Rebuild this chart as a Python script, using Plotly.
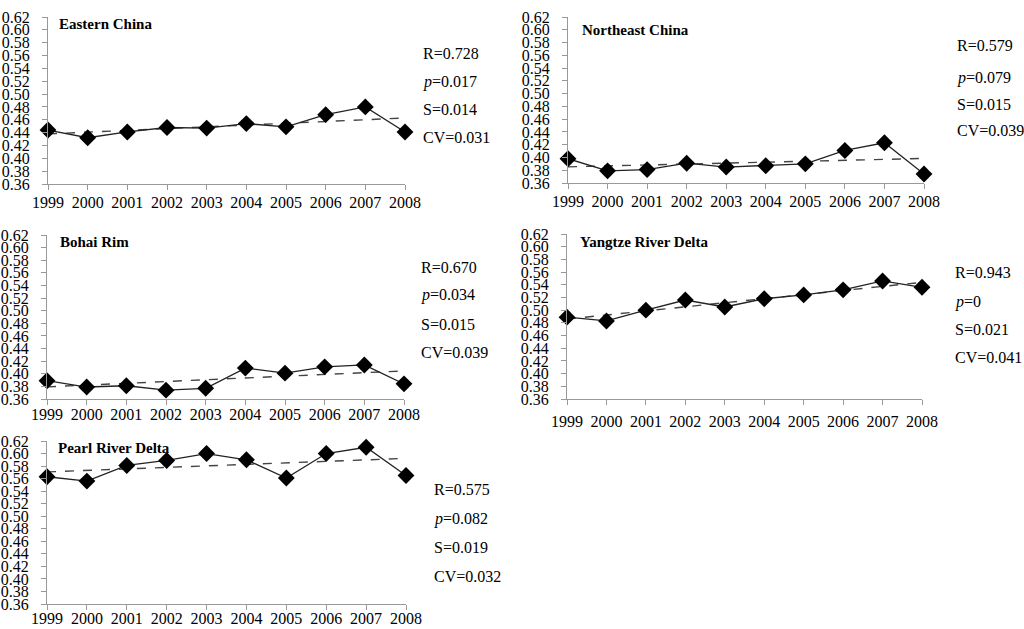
import numpy as np
import plotly.graph_objects as go

years = [1999, 2000, 2001, 2002, 2003, 2004, 2005, 2006, 2007, 2008]

regions = ["Eastern China", "Northeast China", "Bohai Rim", "Yangtze River Delta", "Pearl River Delta"]
eastern = [0.444, 0.432, 0.441, 0.448, 0.447, 0.454, 0.449, 0.468, 0.480, 0.441]
northeast = [0.398, 0.379, 0.381, 0.391, 0.385, 0.387, 0.390, 0.411, 0.423, 0.374]
bohai = [0.389, 0.379, 0.381, 0.374, 0.377, 0.409, 0.401, 0.411, 0.414, 0.384]
yangtze = [0.489, 0.483, 0.500, 0.516, 0.505, 0.518, 0.524, 0.532, 0.546, 0.536]
pearl = [0.563, 0.556, 0.581, 0.589, 0.600, 0.590, 0.561, 0.600, 0.610, 0.565]

stat_R = ["0.728", "0.579", "0.670", "0.943", "0.575"]
stat_p = ["0.017", "0.079", "0.034", "0", "0.082"]
stat_S = ["0.014", "0.015", "0.015", "0.021", "0.019"]
stat_CV = ["0.031", "0.039", "0.039", "0.041", "0.032"]

series = [eastern, northeast, bohai, yangtze, pearl]

W, H = 1024, 629


def px(x):
    return x / W


def py(y):
    return 1 - y / H


# panel pixel boxes (page coords): (left, right, top, bottom)
boxes = [(48, 405, 17, 184), (568, 924, 17, 183), (47, 404, 235, 399),
         (567, 922, 234, 399), (47, 406, 441, 604)]
xlab_standoff = [-1, -1, -4, 3, -5]
title_pos = [(57, 24), (580, 30), (58, 242), (578, 242), (56, 448)]
stat_x = [421, 955, 419, 953, 432]
stat_y = [(54, 82, 109, 137), (45, 78, 104, 130), (267, 295, 324, 352),
          (272, 302, 329, 357), (489, 519, 547, 576)]

FONT = "Liberation Serif, Times New Roman, serif"
fig = go.Figure()
annotations = []
for i, vals in enumerate(series):
    xa = "x" if i == 0 else f"x{i+1}"
    ya = "y" if i == 0 else f"y{i+1}"
    coef = np.polyfit(years, vals, 1)
    trend = np.polyval(coef, years)
    fig.add_trace(go.Scatter(x=years, y=trend, mode="lines", xaxis=xa, yaxis=ya,
                             line=dict(color="#444444", width=1.4, dash="dash"),
                             showlegend=False, hoverinfo="skip"))
    fig.add_trace(go.Scatter(x=years, y=vals, mode="lines+markers", xaxis=xa, yaxis=ya,
                             line=dict(color="#222222", width=1.3),
                             marker=dict(symbol="diamond", size=13, color="black"),
                             cliponaxis=False, showlegend=False, name=regions[i]))
    l, r, t, b = boxes[i]
    sfx = "" if i == 0 else str(i + 1)
    fig.layout["xaxis" + sfx] = dict(
        domain=[px(l), px(r)], anchor=ya, range=[1999, 2008], automargin=False,
        tickvals=years, ticktext=[str(y) for y in years],
        showgrid=False, zeroline=False, showline=True, linecolor="#999999", linewidth=1,
        ticks="outside", ticklen=5, tickcolor="#999999", ticklabelstandoff=xlab_standoff[i],
        tickfont=dict(family=FONT, size=16, color="black"))
    fig.layout["yaxis" + sfx] = dict(
        domain=[py(b), py(t)], anchor=xa, range=[0.36, 0.62], automargin=False,
        tickvals=[round(0.36 + 0.02 * k, 2) for k in range(14)], tickformat=".2f",
        showgrid=False, zeroline=False, showline=True, linecolor="#999999", linewidth=1,
        ticks="outside", ticklen=5, tickcolor="#999999", ticklabelstandoff=9,
        tickfont=dict(family=FONT, size=16, color="black"))
    tx, ty = title_pos[i]
    annotations.append(dict(text="<b>" + regions[i] + "</b>", x=px(tx), y=py(ty),
                            xref="paper", yref="paper",
                            xanchor="left", yanchor="middle", showarrow=False,
                            font=dict(family=FONT, size=15, color="black")))
    texts = [f"R={stat_R[i]}", f"<i>p</i>={stat_p[i]}", f"S={stat_S[i]}", f"CV={stat_CV[i]}"]
    for txt, sy in zip(texts, stat_y[i]):
        annotations.append(dict(text=txt, x=px(stat_x[i]), y=py(sy), xref="paper", yref="paper",
                                xanchor="left", yanchor="middle", showarrow=False,
                                font=dict(family=FONT, size=16, color="black")))

fig.update_layout(width=W, height=H, margin=dict(l=0, r=0, t=0, b=0),
                  paper_bgcolor="white", plot_bgcolor="white",
                  annotations=annotations, showlegend=False)
fig.write_html("out.html", config={"displayModeBar": False},
               post_script="document.body.style.margin='0';document.body.style.overflow='hidden';")
